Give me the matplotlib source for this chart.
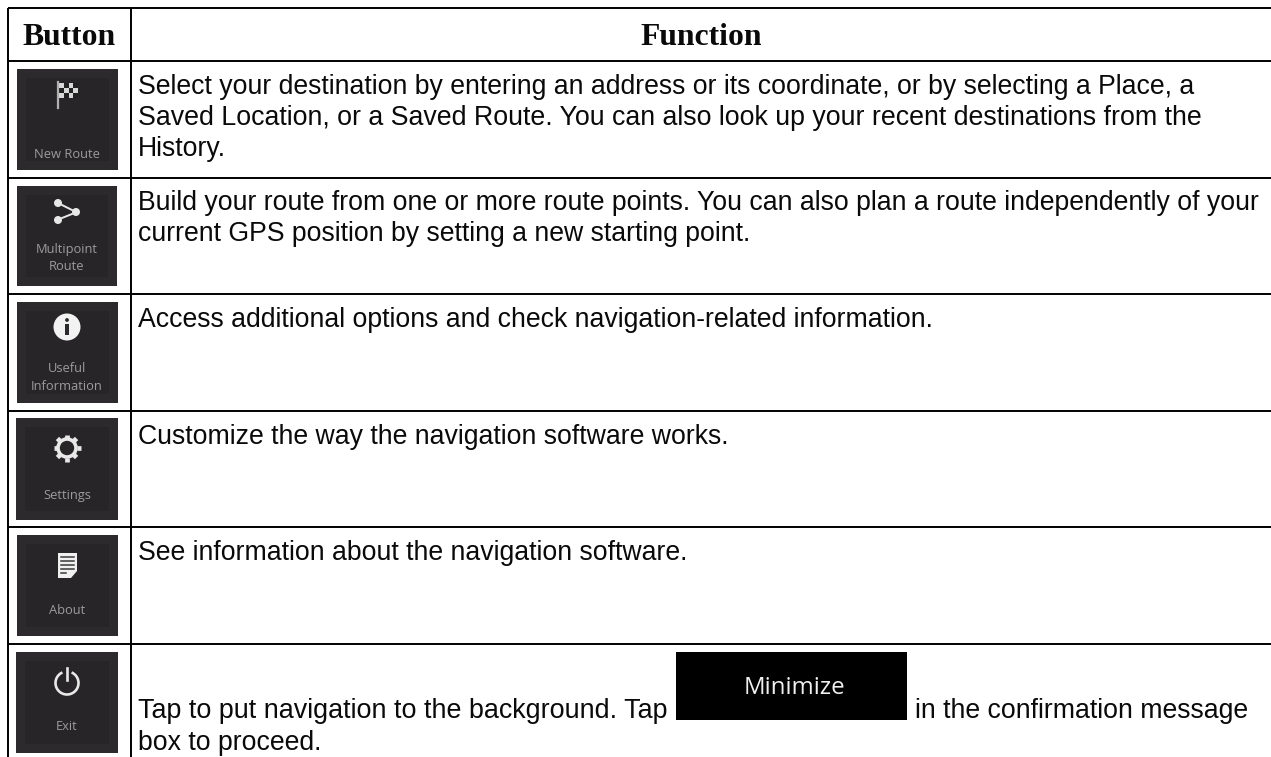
import numpy as np
import matplotlib
matplotlib.use('Agg')
import matplotlib.pyplot as plt
from matplotlib.patches import Rectangle, Circle, Polygon

header = ['Button', 'Function']
button_labels = [['New Route'], ['Multipoint', 'Route'], ['Useful', 'Information'],
                 ['Settings'], ['About'], ['Exit']]
function_lines = [
    ['Select your destination by entering an address or its coordinate, or by selecting a Place, a',
     'Saved Location, or a Saved Route. You can also look up your recent destinations from the',
     'History.'],
    ['Build your route from one or more route points. You can also plan a route independently of your',
     'current GPS position by setting a new starting point.'],
    ['Access additional options and check navigation-related information.'],
    ['Customize the way the navigation software works.'],
    ['See information about the navigation software.'],
    ['Tap to put navigation to the background. Tap', 'box to proceed.'],
]
tap_tail = 'in the confirmation message'
minimize_label = 'Minimize'

# layout, in reference pixels
W, H = 1271, 757
rules_y = [8, 61, 178, 294, 411, 527, 644]
rules_x = [8, 131]
tiles = [(17, 69, 101, 101), (17, 186, 100, 100), (17, 302, 101, 101),
         (16, 418, 102, 102), (17, 535, 101, 101), (16, 652, 102, 101)]
baselines = [[94, 125, 156], [210, 241], [327], [444], [560], [718, 750]]
label_y = [[155], [249, 266], [368, 386], [495], [611], [727]]
icon_y = [93, 212, 327, 448, 565, 682]
text_x = 138
body_size = 19.15
# the reference does not kern these two lines, so they run a little wider
wide_lines = {function_lines[0][1]: 19.22, function_lines[5][0]: 19.39}
tile_col = '#2c2a2c'
inner_col = '#272527'
ink = '#e8e8e8'
label_col = '#9c9c9c'

plt.rcParams['font.family'] = ['Liberation Sans', 'DejaVu Sans']
fig = plt.figure(figsize=(W / 100, H / 100), dpi=100)
ax = fig.add_axes([0, 0, 1, 1])
ax.set_xlim(0, W)
ax.set_ylim(H, 0)
ax.axis('off')

# table rules, the right side runs off the page
for y in rules_y:
    ax.plot([rules_x[0], W], [y, y], color='black', lw=1.4, solid_capstyle='butt')
for x in rules_x:
    ax.plot([x, x], [rules_y[0], H], color='black', lw=1.4, solid_capstyle='butt')

ax.text(69, 45, header[0], family=['Liberation Serif'], weight='bold', fontsize=22.8,
        ha='center', va='baseline', color='#0a0a0a')
ax.text(701, 45, header[1], family=['Liberation Serif'], weight='bold', fontsize=22.8,
        ha='center', va='baseline', color='#0a0a0a')


def flag(cx, cy):
    ax.plot([cx - 9, cx - 9], [cy - 11, cy + 15], color='#b0b0b0', lw=1.6)
    ax.add_patch(Rectangle((cx - 8, cy - 10), 19, 15, fc='#d8d8d8', ec='none'))
    for i in range(4):
        for j in range(3):
            if (i + j) % 2:
                ax.add_patch(Rectangle((cx - 8 + i * 4.75, cy - 10 + j * 5), 4.75, 5,
                                       fc='#222222', ec='none'))


def multipoint(cx, cy):
    pts = [(cx - 9, cy - 9), (cx + 9, cy), (cx - 9, cy + 8)]
    ax.plot([pts[0][0] + 4, pts[1][0] - 4], [pts[0][1] + 2, pts[1][1] - 2], color=ink, lw=1.4)
    ax.plot([pts[2][0] + 4, pts[1][0] - 4], [pts[2][1] - 2, pts[1][1] + 2], color=ink, lw=1.4)
    for p in pts:
        ax.add_patch(Circle(p, 4, fc=ink, ec='none'))


def info(cx, cy):
    ax.add_patch(Circle((cx, cy), 13.5, fc='#f2f2f2', ec='none'))
    ax.add_patch(Rectangle((cx - 1.6, cy - 3), 3.2, 11, fc='#2c2a2c', ec='none'))
    ax.add_patch(Circle((cx, cy - 7), 1.9, fc='#2c2a2c', ec='none'))


def gear(cx, cy):
    ang = np.deg2rad(np.arange(0, 360, 45))
    for a in ang:
        ax.plot([cx + 10 * np.cos(a), cx + 13.5 * np.cos(a)],
                [cy + 10 * np.sin(a), cy + 13.5 * np.sin(a)],
                color=ink, lw=3.4, solid_capstyle='butt')
    ax.add_patch(Circle((cx, cy), 9, fc='none', ec=ink, lw=2.6))


def doc(cx, cy):
    ax.add_patch(Polygon([(cx - 9, cy - 12), (cx + 10, cy - 12), (cx + 10, cy + 6),
                          (cx + 4, cy + 13), (cx - 9, cy + 13)], fc='#f0f0f0', ec='none'))
    for dy in [-8, -4, 0, 4]:
        ax.plot([cx - 6, cx + 7], [cy + dy, cy + dy], color='#3a3a3a', lw=1.1)
    ax.plot([cx - 6, cx - 1], [cy + 8, cy + 8], color='#3a3a3a', lw=1.1)


def power(cx, cy):
    t = np.deg2rad(np.linspace(-60, 240, 60))
    ax.plot(cx + 11.5 * np.cos(t), cy + 1 + 11.5 * np.sin(t), color=ink, lw=1.9)
    ax.plot([cx, cx], [cy - 14, cy - 2], color=ink, lw=1.9)


icons = [flag, multipoint, info, gear, doc, power]

for i, (x, y, w, h) in enumerate(tiles):
    ax.add_patch(Rectangle((x, y), w, h, fc=tile_col, ec='none'))
    ax.add_patch(Rectangle((x + 9, y + 9), w - 18, h - 18, fc=inner_col, ec='none'))
    icons[i](67, icon_y[i])
    for line, ly in zip(button_labels[i], label_y[i]):
        ax.text(67, ly, line, fontsize=9.3, family=['Open Sans'], color=label_col,
                ha='center', va='center')

for lines, ys in zip(function_lines, baselines):
    for line, y in zip(lines, ys):
        ax.text(text_x, y, line, fontsize=wide_lines.get(line, body_size), color='#0a0a0a',
                ha='left', va='baseline')
ax.text(915, 718, tap_tail, fontsize=body_size, color='#0a0a0a', ha='left', va='baseline')

# inline "Minimize" button
ax.add_patch(Rectangle((676, 652), 231, 68, fc='black', ec='none'))
ax.text(794.5, 694, minimize_label, fontsize=17.3, family=['Open Sans'], color='#f0f0f0',
        ha='center', va='baseline')

fig.savefig('out.png', dpi=100, facecolor='white')
